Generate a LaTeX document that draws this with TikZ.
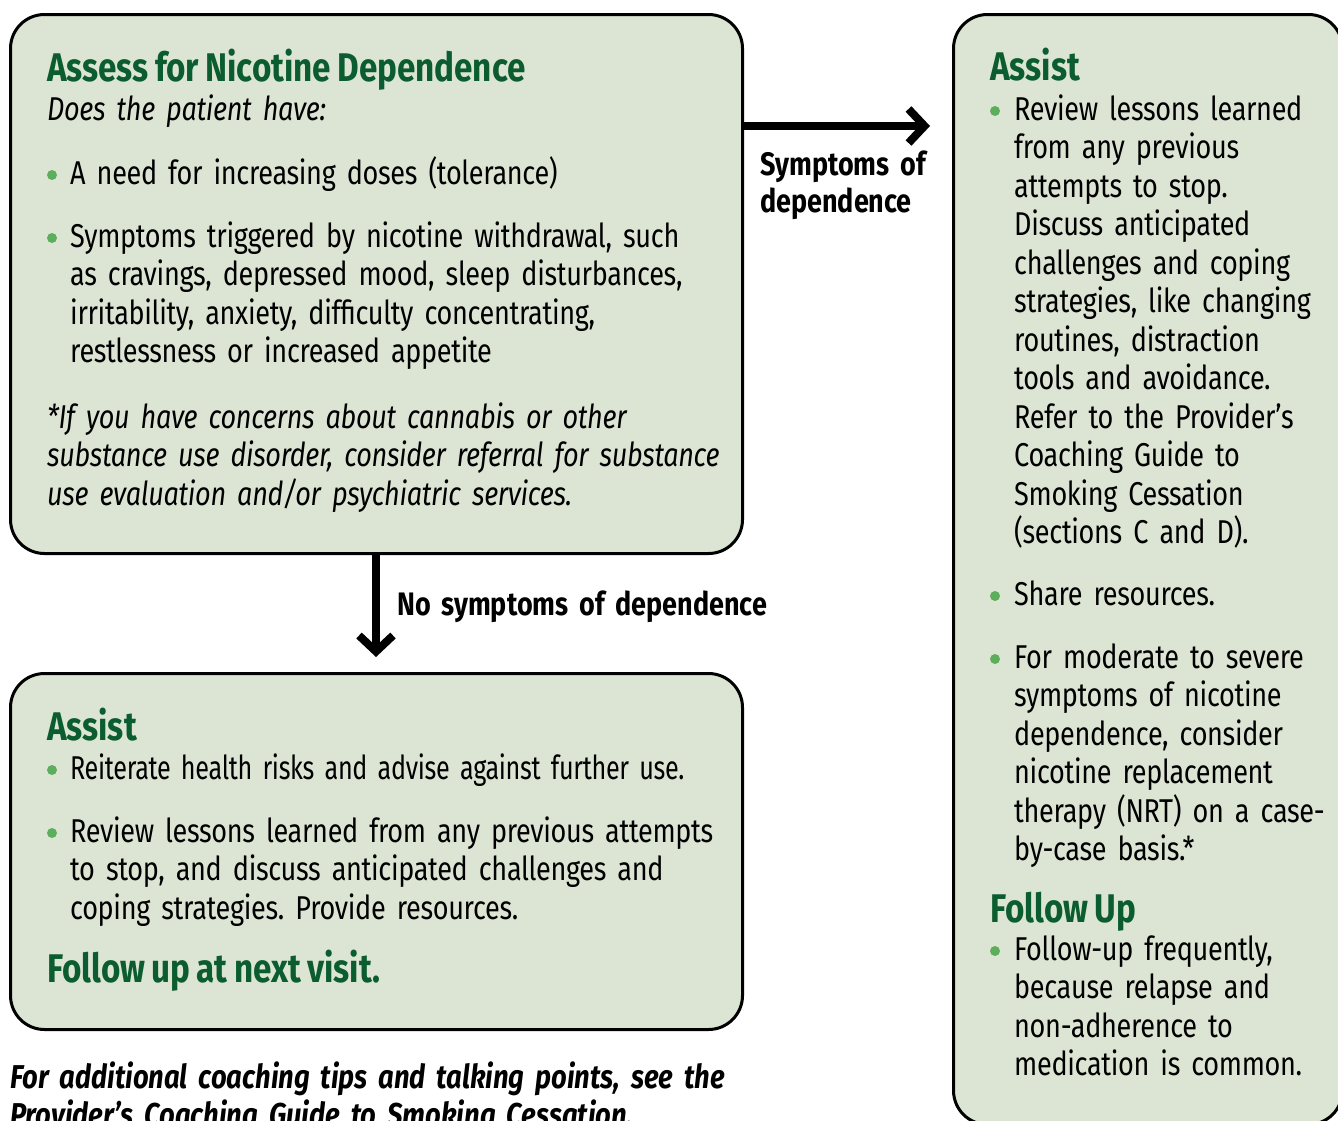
\documentclass[tikz,border=0pt]{standalone}
\usepackage{fontspec}
\setmainfont{Fira Sans}[FakeStretch=0.82, LetterSpace=-1, WordSpace=0.45]
\newfontfamily\ttlfont{Fira Sans}[FakeStretch=0.83, WordSpace=0.8]
\usetikzlibrary{arrows.meta}
\definecolor{boxfill}{HTML}{DCE5D4}
\definecolor{ttlgreen}{HTML}{0B5C2E}
\definecolor{bulgreen}{HTML}{5CAE5C}
\tikzset{
  panel/.style={draw=black, line width=3pt, fill=boxfill, rounded corners=34pt, anchor=north west, inner sep=0pt},
  txt/.style={anchor=base west, inner sep=0pt, align=left, text width=#1, font=\frenchspacing\fontsize{33}{38.5}\selectfont},
  txt/.default=700pt,
  ttl/.style={anchor=base west, inner sep=0pt, text=ttlgreen, font=\ttlfont\fontsize{40}{44}\selectfont\bfseries},
  lbl/.style={anchor=base west, inner sep=0pt, align=left, text width=#1, font=\ttlfont\fontsize{32.5}{37.5}\selectfont\bfseries},
  lbl/.default=400pt,
  dot/.style={circle, fill=bulgreen, inner sep=0pt, minimum size=10pt},
  arr/.style={line width=8pt, -{Straight Barb[length=16pt,width=34pt]}},
}
\begin{document}
\begin{tikzpicture}[x=1pt,y=-1pt]
\useasboundingbox (0,0) rectangle (1338,1120);
% panels
\node[panel, minimum width=732pt, minimum height=539pt] (A) at (9,13) {};
\node[panel, minimum width=732pt, minimum height=356pt] (B) at (9,672) {};
\node[panel, minimum width=389pt, minimum height=1110pt] (C) at (952,13) {};
% connectors
\coordinate (ry) at (0,126);
\coordinate (dx) at (376,0);
\draw[arr, shorten >=22pt] (A.east |- ry) -- (C.west |- ry);
\draw[arr, shorten >=15pt] (A.south -| dx) -- (B.north -| dx);
\node[lbl] (l1) at (760,175) {Symptoms of\\dependence};
\node[lbl] (l2) at (397,615) {No symptoms of dependence};
% box A
\node[ttl] (t1) at (47,81) {Assess for Nicotine Dependence};
\node[txt] (q1) at (47,120) {\itshape Does the patient have:};
\node[dot] (d1) at (52,175) {};
\node[txt] (p1) at (70,184) {A need for increasing doses (tolerance)};
\node[dot] (d2) at (52,238) {};
\node[txt] (p2) at (70,247) {Symptoms triggered by nicotine withdrawal, such\\as cravings, depressed mood, sleep disturbances,\\irritability, anxiety, difficulty concentrating,\\restlessness or increased appetite};
\node[txt] (n1) at (47,428) {\itshape *If you have concerns about cannabis or other\\substance use disorder, consider referral for substance\\use evaluation and/or psychiatric services.};
% box B
\node[ttl] (t2) at (47,740) {Assist};
\node[dot] (d3) at (52,770) {};
\node[txt] (p3) at (70,779) {\scalebox{0.93}[1]{Reiterate health risks and advise against further use.}};
\node[dot] (d4) at (52,833) {};
\node[txt] (p4) at (70,842) {Review lessons learned from any previous attempts\\to stop, and discuss anticipated challenges and\\coping strategies. Provide resources.};
\node[ttl] (f2) at (47,982) {Follow up at next visit.};
% box C
\node[ttl] (t3) at (990,80) {Assist};
\node[dot] (d5) at (995,111) {};
\node[txt=320pt] (p5) at (1014,120) {Review lessons learned\\from any previous\\attempts to stop.\\Discuss anticipated\\challenges and coping\\strategies, like changing\\routines, distraction\\tools and avoidance.\\Refer to the Provider’s\\Coaching Guide to\\Smoking Cessation\\(sections C and D).};
\node[dot] (d6) at (995,596) {};
\node[txt=320pt] (p6) at (1014,605) {Share resources.};
\node[dot] (d7) at (995,659) {};
\node[txt=320pt] (p7) at (1014,668) {For moderate to severe\\symptoms of nicotine\\dependence, consider\\nicotine replacement\\therapy (NRT) on a case-\\by-case basis.*};
\node[ttl] (t4) at (990,922) {Follow Up};
\node[dot] (d8) at (995,951) {};
\node[txt=320pt] (p8) at (1014,960) {Follow-up frequently,\\because relapse and\\non-adherence to\\medication is common.};
% footer
\node[lbl=780pt, font=\ttlfont\fontsize{33}{38}\selectfont\bfseries\itshape] (ft) at (10,1088) {For additional coaching tips and talking points, see the\\Provider’s Coaching Guide to Smoking Cessation.};
\end{tikzpicture}
\end{document}
